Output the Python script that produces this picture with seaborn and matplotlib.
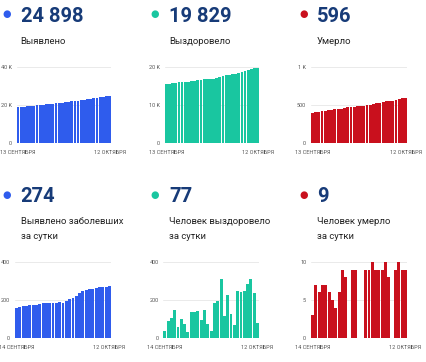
import matplotlib
matplotlib.use("Agg")
import matplotlib.pyplot as plt
import seaborn as sns

# Накопительные данные, 13 сентября - 12 октября (30 дней)
cases_total = [18808, 18966, 19130, 19298, 19468, 19644, 19818, 19993, 20171, 20354,
               20536, 20721, 20907, 21093, 21283, 21469, 21665, 21869, 22079, 22301,
               22539, 22787, 23039, 23295, 23555, 23818, 24084, 24353, 24624, 24898]
recovered_total = [15574, 15612, 15700, 15805, 15950, 16008, 16106, 16178, 16208, 16343,
                   16478, 16618, 16711, 16858, 16930, 16968, 17151, 17346, 17656, 17771,
                   17996, 18121, 18189, 18437, 18677, 18924, 19207, 19515, 19752, 19829]
deaths_total = [400, 403, 410, 416, 423, 430, 436, 441, 445, 451,
                460, 468, 468, 477, 486, 486, 486, 495, 504, 514,
                523, 532, 541, 551, 559, 559, 568, 578, 587, 596]

# Данные за сутки, 14 сентября - 12 октября (29 дней)
cases_daily = [158, 164, 168, 170, 176, 174, 175, 178, 183, 182,
               185, 186, 186, 190, 186, 196, 204, 210, 222, 238,
               248, 252, 256, 260, 263, 266, 269, 271, 274]
recovered_daily = [38, 88, 105, 145, 58, 98, 72, 30, 135, 135,
                   140, 93, 147, 72, 38, 183, 195, 310, 115, 225,
                   125, 68, 248, 240, 247, 283, 308, 237, 77]
deaths_daily = [3, 7, 6, 7, 7, 6, 5, 4, 6, 9,
                8, 0, 9, 9, 0, 0, 9, 9, 10, 9,
                9, 9, 10, 8, 0, 9, 10, 9, 9]

headline = ["24 898", "19 829", "596", "274", "77", "9"]
subtitles = ["Выявлено", "Выздоровело", "Умерло",
             "Выявлено заболевших\nза сутки", "Человек выздоровело\nза сутки",
             "Человек умерло\nза сутки"]
date_labels_top = ["13 СЕНТЯБРЯ", "12 ОКТЯБРЯ"]
date_labels_bottom = ["14 СЕНТЯБРЯ", "12 ОКТЯБРЯ"]

y_ticks = [[0, 20000, 40000], [0, 10000, 20000], [0, 500, 1000],
           [0, 200, 400], [0, 200, 400], [0, 5, 10]]
y_ticklabels = [["0", "20 K", "40 K"], ["0", "10 K", "20 K"], ["0", "500", "1 K"],
                ["0", "200", "400"], ["0", "200", "400"], ["0", "5", "10"]]

BLUE = "#2f5ced"
TEAL = "#19c6a0"
RED = "#c9101d"
NAVY = "#173b78"
colors = [BLUE, TEAL, RED, BLUE, TEAL, RED]
series = [cases_total, recovered_total, deaths_total,
          cases_daily, recovered_daily, deaths_daily]

sns.set_style("white")
plt.rcParams["font.family"] = ["Roboto", "DejaVu Sans"]

W, H = 427, 362
fig = plt.figure(figsize=(W / 100, H / 100), dpi=100)
fig.patch.set_facecolor("white")


def fx(px):
    return px / W


def fy(py):
    return 1 - py / H


# пиксельная разметка панелей: (левый край, правый край, верх, низ) графика
plot_boxes = [(16.7, 111, 67, 143), (165, 259, 67, 143), (311, 407, 67, 143),
              (15, 111, 262, 338), (163.3, 259, 262, 338), (311, 407, 262, 338)]
text_left = [20.7, 169.3, 317, 20.7, 169.3, 317]
dot_x = [7, 154.5, 303.7, 7, 155, 303.7]

for i in range(6):
    top_row = i < 3
    x0, x1, y0, y1 = plot_boxes[i]
    ax = fig.add_axes([fx(x0), fy(y1), fx(x1 - x0), (y1 - y0) / H])
    vals = series[i]
    n = len(vals)
    sns.barplot(x=list(range(n)), y=vals, color=colors[i], saturation=1,
                width=0.88, linewidth=0, ax=ax, zorder=3)
    ax.set_xlim(-0.44, n - 1 + 0.44)
    ax.set_ylim(0, y_ticks[i][-1])
    ax.set_yticks(y_ticks[i])
    ax.set_yticklabels(y_ticklabels[i], fontsize=4, color="#555555")
    ax.set_xticks([0, n - 1])
    dates = date_labels_top if top_row else date_labels_bottom
    ax.set_xticklabels(dates, fontsize=4, color="#555555")
    ax.tick_params(length=0, pad=3.5)
    ax.tick_params(axis="x", pad=5)
    ax.grid(axis="y", color="#e6e6e6", linewidth=0.6, zorder=0)
    ax.set_axisbelow(True)
    sns.despine(ax=ax, left=True, bottom=True)
    ax.set_xlabel("")
    ax.set_ylabel("")

    base = 0 if top_row else 180
    # маркер и крупное число
    fig.text(fx(dot_x[i]), fy(base + 14.5), "●", color=colors[i], fontsize=7,
             ha="center", va="center", family=["DejaVu Sans"])
    fig.text(fx(text_left[i]), fy(base + 21.7), headline[i], color=NAVY,
             fontsize=14.5, fontweight="bold", ha="left", va="baseline")
    # подпись
    lines = subtitles[i].split("\n")
    for k, line in enumerate(lines):
        fig.text(fx(text_left[i]), fy(base + 44 + k * 15), line,
                 color="#222222", fontsize=6.8, ha="left", va="baseline")

fig.savefig("out.png", dpi=100, facecolor="white")
